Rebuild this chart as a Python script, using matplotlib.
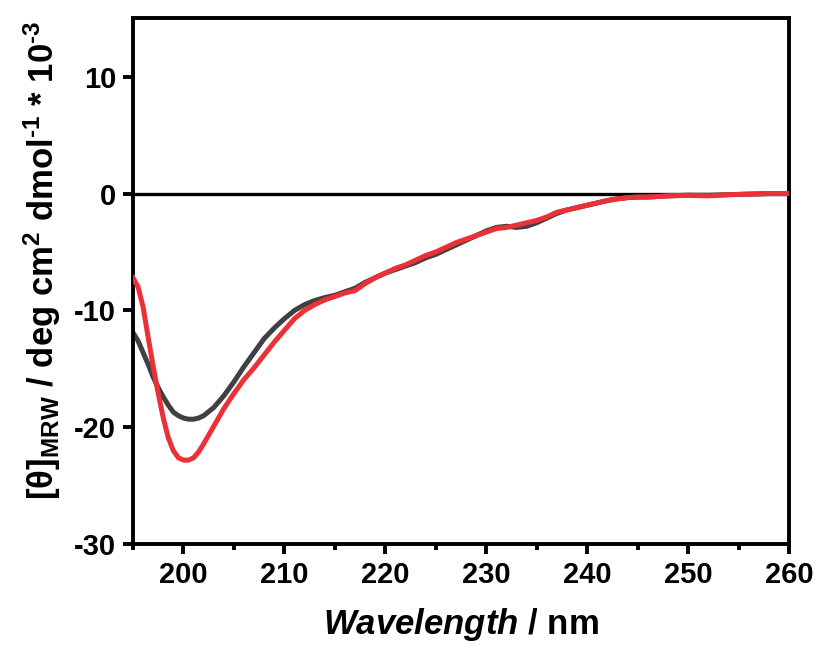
import matplotlib
matplotlib.use("Agg")
import matplotlib.pyplot as plt
from matplotlib.ticker import MultipleLocator

plt.rcParams['font.family'] = ['Liberation Sans', 'DejaVu Sans']
plt.rcParams['font.weight'] = 'bold'
plt.rcParams['axes.unicode_minus'] = False
plt.rcParams['mathtext.fontset'] = 'custom'
plt.rcParams['mathtext.rm'] = 'Liberation Sans:bold'
plt.rcParams['mathtext.it'] = 'Liberation Sans:bold:italic'
plt.rcParams['mathtext.bf'] = 'Liberation Sans:bold'

wavelength = [195, 195.5, 196, 196.5, 197, 197.5, 198, 198.5, 199, 199.5, 200, 200.5,
              201, 201.5, 202, 203, 204, 205, 206, 207, 208, 209, 210, 211, 212, 213,
              214, 215, 216, 217, 218, 219, 220, 221, 222, 223, 224, 225, 226, 227,
              228, 229, 230, 231, 232, 233, 234, 235, 236, 237, 238, 239, 240, 241,
              242, 243, 244, 245, 246, 248, 250, 252, 254, 256, 258, 260]

gray_series = [-11.9, -12.6, -13.6, -14.6, -15.7, -16.6, -17.4, -18.1, -18.7, -19.0, -19.2, -19.3,
               -19.3, -19.2, -19.0, -18.3, -17.3, -16.1, -14.8, -13.6, -12.4, -11.5, -10.7, -10.0, -9.5, -9.15,
               -8.9, -8.7, -8.4, -8.1, -7.6, -7.2, -6.8, -6.5, -6.2, -5.9, -5.5, -5.2, -4.8, -4.4,
               -4.0, -3.6, -3.2, -2.9, -2.8, -2.9, -2.8, -2.5, -2.1, -1.7, -1.4, -1.2, -1.0, -0.8,
               -0.6, -0.45, -0.35, -0.3, -0.3, -0.2, -0.15, -0.15, -0.1, -0.05, 0.0, 0.0]

red_series = [-7.2, -8.0, -9.7, -12.3, -14.8, -17.1, -19.2, -20.9, -22.0, -22.6, -22.8, -22.8,
              -22.6, -22.1, -21.4, -19.9, -18.4, -17.1, -15.9, -14.9, -13.8, -12.7, -11.7, -10.7, -10.0, -9.5,
              -9.1, -8.8, -8.5, -8.3, -7.7, -7.2, -6.8, -6.4, -6.1, -5.7, -5.3, -5.0, -4.6, -4.2,
              -3.9, -3.6, -3.3, -3.0, -2.9, -2.7, -2.5, -2.3, -2.0, -1.6, -1.4, -1.2, -1.0, -0.8,
              -0.6, -0.45, -0.35, -0.3, -0.3, -0.2, -0.15, -0.2, -0.1, -0.05, 0.0, 0.0]

x_ticks = [200, 210, 220, 230, 240, 250, 260]
y_ticks = [-30, -20, -10, 0, 10]

fig = plt.figure(figsize=(8.16, 6.48), dpi=100)
ax = fig.add_axes([0.163, 0.160, 0.804, 0.812])

ax.axhline(0, color='black', lw=2.4, zorder=1)
ax.plot(wavelength, gray_series, color='#404040', lw=3.6, zorder=2)
ax.plot(wavelength, red_series, color='#ec3038', lw=3.6, zorder=3)

ax.set_xlim(195, 260)
ax.set_ylim(-30, 15)
ax.set_xticks(x_ticks)
ax.set_yticks(y_ticks)
ax.xaxis.set_minor_locator(MultipleLocator(5))

for s in ax.spines.values():
    s.set_linewidth(2.8)
ax.tick_params(axis='both', which='major', direction='out', length=7, width=2.8,
               labelsize=21, pad=5)
ax.tick_params(axis='x', which='minor', direction='out', length=4, width=2.8)
for lab in ax.get_xticklabels() + ax.get_yticklabels():
    lab.set_fontweight('bold')

ax.set_xlabel(r'$\it{Wavelength}$ / nm', fontsize=25, fontweight='bold', labelpad=12)
ax.set_ylabel(r'[θ]$_{\text{MRW}}$ / deg cm$^{\text{2}}$ dmol$^{\text{-1}}$ * 10$^{\text{-3}}$',
              fontsize=25, fontweight='bold')
ax.yaxis.set_label_coords(-0.107, 0.54)

fig.savefig('out.png', dpi=100)
